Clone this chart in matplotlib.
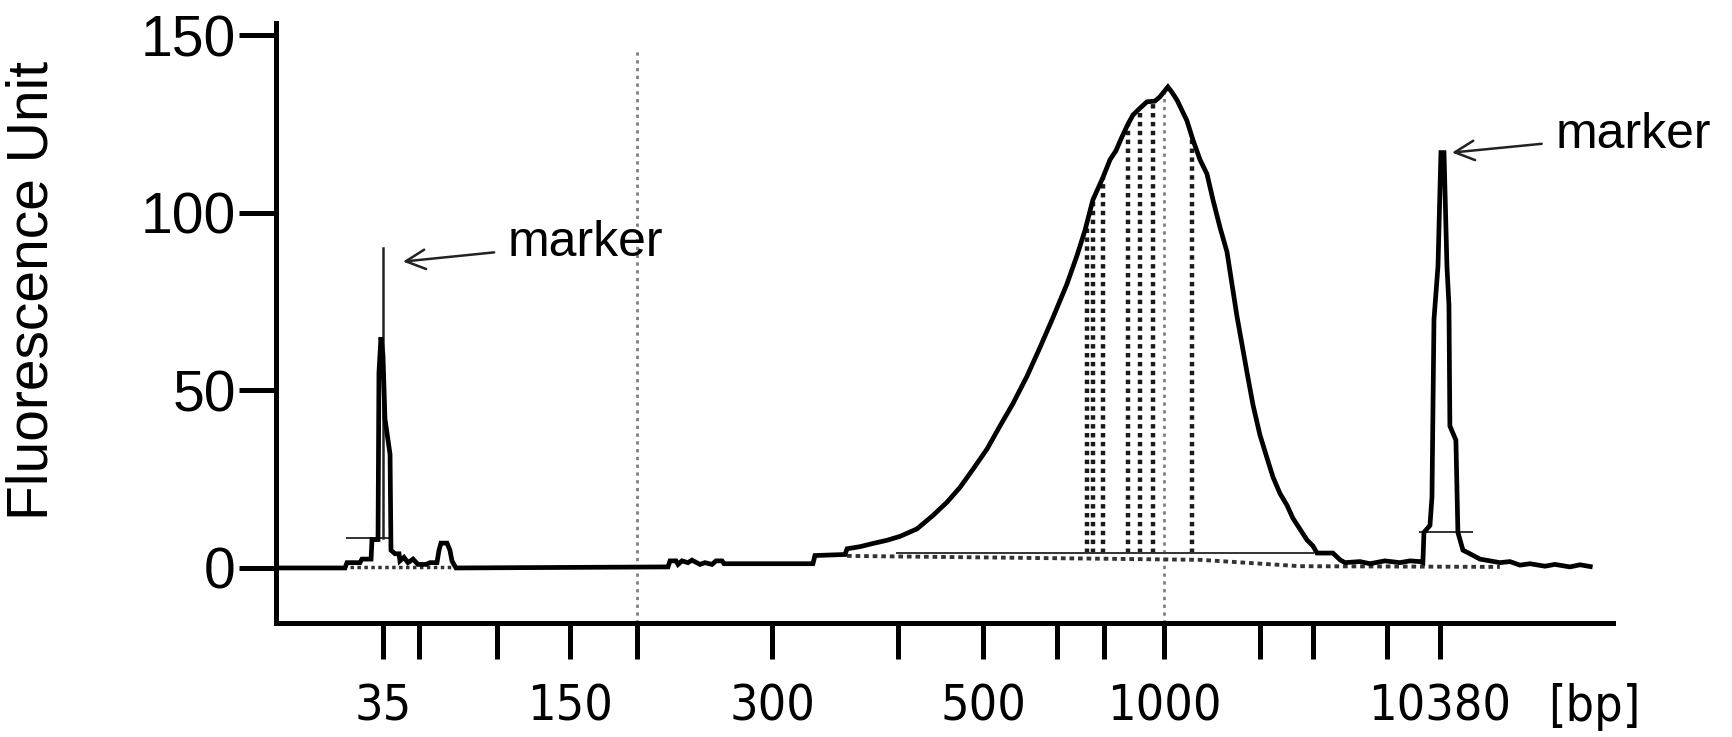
import matplotlib
matplotlib.use("Agg")
import matplotlib.pyplot as plt
from matplotlib.transforms import blended_transform_factory

# ---------------- data ----------------
# ladder bands (bp) and their position on the migration axis (arbitrary units 0-100)
ladder_bp = [35, 50, 100, 150, 200, 300, 400, 500, 600, 700, 1000, 2000, 3000, 7000, 10380]
ladder_pos = [8.00, 10.70, 16.53, 21.99, 27.00, 37.10, 46.52, 52.88, 58.41,
              61.93, 66.41, 73.59, 77.56, 83.09, 87.06]
labelled_bp = [35, 150, 300, 500, 1000, 10380]

# electropherogram trace: position vs fluorescence units
trace_pos = [0.00, 5.16, 5.31, 6.28, 6.43, 7.11, 7.18, 7.63, 7.70, 7.85, 8.00, 8.15, 8.38,
             8.53, 8.60, 8.90, 9.20, 9.27, 9.57, 9.87, 10.25, 10.62, 11.22, 11.52, 12.04,
             12.19, 12.34, 12.79, 13.01, 13.16, 13.46,
             29.32, 29.47, 29.92, 30.07, 30.36, 30.81, 31.11, 31.71, 32.08, 32.61, 32.91,
             33.36, 33.51, 40.16, 40.31, 42.56,
             42.71, 43.68, 44.65, 45.70, 46.67, 47.94, 49.14, 50.18, 51.16, 52.13, 53.18,
             54.15, 55.12, 56.17, 57.14, 58.11, 59.16, 59.91, 60.50, 61.10, 61.85, 62.38,
             62.82, 63.27, 63.72, 64.10, 64.62, 65.14, 65.74, 66.11, 66.49, 66.71, 67.01,
             67.39, 68.13, 68.58, 69.11, 69.63, 70.08, 70.60, 71.13, 71.50, 71.87, 72.25,
             72.62, 73.07, 73.59, 74.12, 74.57, 75.09, 75.61, 76.06, 76.59, 77.11, 77.56,
             77.86, 79.05, 79.58, 79.95, 81.07, 81.82, 82.94, 84.06, 84.81, 85.56, 85.78,
             85.86, 86.31, 86.46, 86.61, 86.91, 87.13, 87.36, 87.58, 87.73, 87.80, 88.25,
             88.40, 88.78, 89.30, 90.05, 90.79, 91.54, 92.29, 93.04, 93.79, 94.91, 95.66,
             96.78, 97.53, 98.30]
trace_fu = [0.0, 0.0, 1.5, 1.5, 2.5, 2.5, 8.0, 8.0, 55.0, 65.0, 60.0, 42.0, 36.0,
            32.0, 5.0, 4.0, 4.0, 2.0, 3.0, 1.5, 2.5, 1.0, 1.0, 1.5, 1.5,
            5.0, 7.0, 7.0, 5.0, 2.0, 0.0,
            0.3, 2.0, 2.0, 1.0, 2.0, 1.5, 2.2, 1.0, 1.5, 1.0, 2.0,
            2.0, 1.2, 1.2, 3.5, 3.8,
            5.4, 6.0, 6.9, 7.8, 8.9, 11.0, 14.8, 18.5, 22.7, 27.8, 33.5,
            40.0, 46.3, 54.0, 62.1, 70.5, 80.0, 88.0, 95.0, 103.7, 110.0, 115.0,
            117.5, 121.4, 125.0, 127.6, 129.5, 131.3, 131.5, 132.7, 134.5, 135.5, 134.0,
            131.8, 126.0, 120.6, 115.0, 111.0, 103.7, 96.0, 89.0, 80.0, 71.0, 63.0,
            55.2, 46.0, 37.5, 31.0, 25.6, 21.0, 17.7, 14.0, 10.9, 7.9, 6.2,
            4.2, 4.2, 2.3, 1.5, 1.8, 1.2, 2.0, 1.5, 2.0, 1.8, 1.5,
            10.0, 12.0, 20.0, 70.0, 85.0, 117.0, 117.0, 85.0, 74.0, 40.0, 36.0,
            10.0, 5.0, 4.0, 2.5, 2.0, 1.5, 1.8, 0.8, 1.2, 0.5, 1.0,
            0.3, 0.9, 0.4]

# fitted baselines (dotted) and integration levels (thin lines)
baseline_left_pos = [5.53, 13.39]
baseline_left_fu = [0.4, 0.4]
baseline_main_pos = [42.71, 69.11, 76.59, 91.54]
baseline_main_fu = [3.4, 2.3, 0.5, 0.3]
level_pos = [(5.31, 8.53), (46.45, 77.56), (85.56, 89.45)]
level_fu = [8.5, 4.3, 10.0]
marker_line_pos = 8.00
marker_line_fu = (8.5, 90.0)

# region boundaries (black dotted) inside main peak
region_pos = [60.65, 61.10, 61.85, 63.72, 64.62, 65.59, 68.51]
region_top = [96.0, 103.0, 110.0, 125.0, 129.5, 131.5, 121.0]
region_bottom = 4.3
# grey dotted reference lines at 200 bp and 1000 bp
ref_pos = [27.00, 66.41]
ref_top = [146.0, 134.0]

yticks = [0, 50, 100, 150]

# ---------------- figure ----------------
W, H = 1733, 737
fig = plt.figure(figsize=(W / 100, H / 100), dpi=100)
ax = fig.add_axes([276 / W, 1 - 623 / H, 1337 / W, 600 / H])
ax.set_xlim(0, 100)
ax.set_ylim(-15.5, 153.5)

for s in ("top", "right"):
    ax.spines[s].set_visible(False)
for s in ("left", "bottom"):
    ax.spines[s].set_linewidth(3.6)
    ax.spines[s].set_capstyle("projecting")

# reference dotted lines (grey)
for p, t in zip(ref_pos, ref_top):
    ax.plot([p, p], [-15.5, t], color="#808080", lw=2.0, ls=(0, (1.2, 1.6)), zorder=1)

# region dotted lines (black)
for p, t in zip(region_pos, region_top):
    ax.plot([p, p], [region_bottom, t], color="#1a1a1a", lw=3.2, ls=(0, (1, 1)), zorder=2)

# baselines
ax.plot(baseline_left_pos, baseline_left_fu, color="#333333", lw=2.5, ls=(0, (1, 1)), zorder=2)
ax.plot(baseline_main_pos, baseline_main_fu, color="#333333", lw=2.8, ls=(0, (1.2, 1)), zorder=2)
for (a, b), v in zip(level_pos, level_fu):
    ax.plot([a, b], [v, v], color="#333333", lw=1.4, zorder=2)
ax.plot([marker_line_pos, marker_line_pos], list(marker_line_fu), color="#222222", lw=1.8, zorder=3)

# trace
ax.plot(trace_pos, trace_fu, color="black", lw=3.4, solid_joinstyle="miter", zorder=4)

# ticks
ax.set_yticks(yticks)
ax.set_yticklabels([str(v) for v in yticks], fontfamily="Liberation Sans", fontsize=41)
ax.tick_params(axis="y", direction="out", length=27, width=3.6, pad=2)
ax.set_xticks(ladder_pos)
ax.set_xticklabels([str(b) if b in labelled_bp else "" for b in ladder_bp],
                   fontfamily="DejaVu Sans", fontstretch="condensed", fontsize=36)
ax.tick_params(axis="x", direction="out", length=26, width=3.6, pad=17)

# unit label
trans = blended_transform_factory(ax.transData, ax.transAxes)
ax.annotate("[bp]", xy=(98.6, 0), xycoords=trans, xytext=(0, -43), textcoords="offset points",
            ha="center", va="top", fontfamily="DejaVu Sans", fontstretch="condensed",
            fontsize=36, annotation_clip=False)

ax.set_ylabel("Fluorescence Unit", fontfamily="Liberation Sans", fontsize=41)
ax.yaxis.set_label_coords(-0.1818, 0.555)
ax.yaxis.label.set_verticalalignment("center")

# marker annotations
ax.annotate("marker", xy=(9.5, 86.3), xytext=(17.35, 91.5), fontfamily="Liberation Sans",
            fontsize=36, ha="left", va="center",
            arrowprops=dict(arrowstyle="->", color="#222222", lw=1.8, mutation_scale=35,
                            shrinkA=8, shrinkB=0))
ax.annotate("marker", xy=(87.96, 117.0), xytext=(95.7, 122.0), fontfamily="Liberation Sans",
            fontsize=36, ha="left", va="center", annotation_clip=False,
            arrowprops=dict(arrowstyle="->", color="#222222", lw=1.8, mutation_scale=35,
                            shrinkA=8, shrinkB=0))

fig.savefig("out.png", dpi=100, facecolor="white")
